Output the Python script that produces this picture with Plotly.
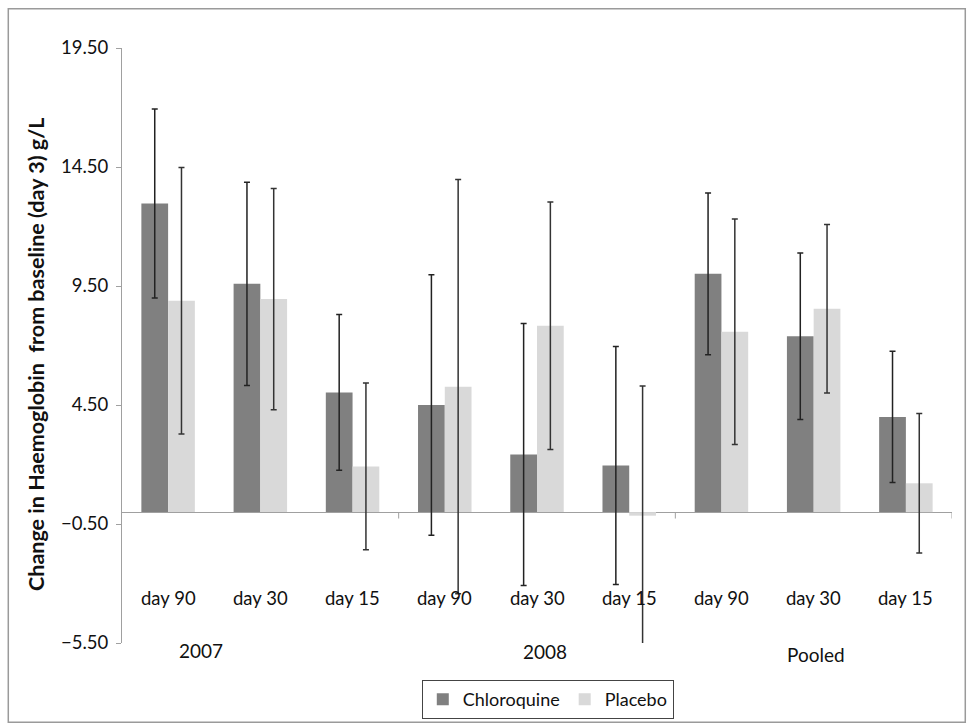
import plotly.graph_objects as go

# ---- data ----
day_labels = ["day 90", "day 30", "day 15", "day 90", "day 30", "day 15", "day 90", "day 30", "day 15"]
group_labels = ["2007", "2008", "Pooled"]
chloroquine = [12.97, 9.59, 5.03, 4.50, 2.42, 1.96, 10.01, 7.39, 4.00]
chloroquine_err = [3.97, 4.27, 3.27, 5.47, 5.50, 5.00, 3.40, 3.50, 2.76]
placebo = [8.88, 8.95, 1.92, 5.27, 7.83, -0.15, 7.58, 8.54, 1.21]
placebo_err = [5.60, 4.65, 3.50, 8.70, 5.20, 5.45, 4.74, 3.54, 2.93]
y_ticks = [-5.5, -0.5, 4.5, 9.5, 14.5, 19.5]

x = list(range(len(day_labels)))
FONT = "Lato, 'Open Sans', sans-serif"

fig = go.Figure()
fig.add_trace(go.Bar(
    x=x, y=chloroquine, name="Chloroquine",
    marker=dict(color="#808080", line=dict(width=0)),
    error_y=dict(type="data", array=chloroquine_err, visible=True,
                 color="#222222", thickness=1.5, width=3),
))
fig.add_trace(go.Bar(
    x=x, y=placebo, name="Placebo",
    marker=dict(color="#d9d9d9", line=dict(width=0)),
    error_y=dict(type="data", array=placebo_err, visible=True,
                 color="#333333", thickness=1.5, width=3),
))

# day labels inside plot area
for i, lab in enumerate(day_labels):
    fig.add_annotation(x=i, y=-3.6, xref="x", yref="y", text=lab,
                       showarrow=False, font=dict(size=18.5, color="#111111", family=FONT))

# group labels
group_pos = [(0.36, -0.012), (4.09, -0.014), (7.02, -0.020)]
for lab, (gx, gy) in zip(group_labels, group_pos):
    fig.add_annotation(x=gx, y=gy, xref="x", yref="paper", text=lab, yanchor="middle",
                       xanchor="center",
                       showarrow=False, font=dict(size=19, color="#111111", family=FONT))

# y-axis title
fig.add_annotation(x=-0.103, y=0.485, xref="paper", yref="paper", textangle=-90,
                   xanchor="center", yanchor="middle",
                   text="<b>Change in Haemoglobin  from baseline (day 3) g/L</b>",
                   showarrow=False, font=dict(size=21.5, color="#111111", family=FONT))

# separator ticks on the category axis
for sx in [2.5, 5.5, 8.5]:
    fig.add_shape(type="line", xref="x", yref="y", x0=sx, x1=sx, y0=0, y1=-0.27,
                  line=dict(color="#a0a0a0", width=1))

# outer frame
fig.add_shape(type="rect", xref="paper", yref="paper", x0=-0.137, x1=1.016, y0=-0.133, y1=1.066,
              line=dict(color="#9a9a9a", width=1.5), fillcolor="rgba(0,0,0,0)")

fig.update_layout(
    width=971, height=727,
    margin=dict(l=122, r=19, t=48, b=84, autoexpand=False),
    paper_bgcolor="white", plot_bgcolor="white",
    barmode="group", bargap=0.42, bargroupgap=0,
    font=dict(family=FONT, size=17, color="#111111"),
    showlegend=True,
    legend=dict(orientation="h", x=0.513, xanchor="center", y=-0.128, yanchor="bottom",
                bordercolor="#444444", borderwidth=1, font=dict(size=18, family=FONT),
                bgcolor="white", itemsizing="constant", tracegroupgap=0),
    xaxis=dict(range=[-0.5, 8.5], showticklabels=False, showgrid=False, zeroline=False,
               showline=False, ticks=""),
    yaxis=dict(range=[-5.5, 19.5], tickvals=y_ticks, tickformat=".2f",
               showgrid=False, zeroline=True, zerolinecolor="#a0a0a0", zerolinewidth=1,
               showline=True, linecolor="#a0a0a0", linewidth=1,
               ticks="outside", ticklen=5, tickcolor="#a0a0a0", ticklabelstandoff=4,
               tickfont=dict(size=18.5, family=FONT, color="#111111")),
)

fig.write_html("out.html")
